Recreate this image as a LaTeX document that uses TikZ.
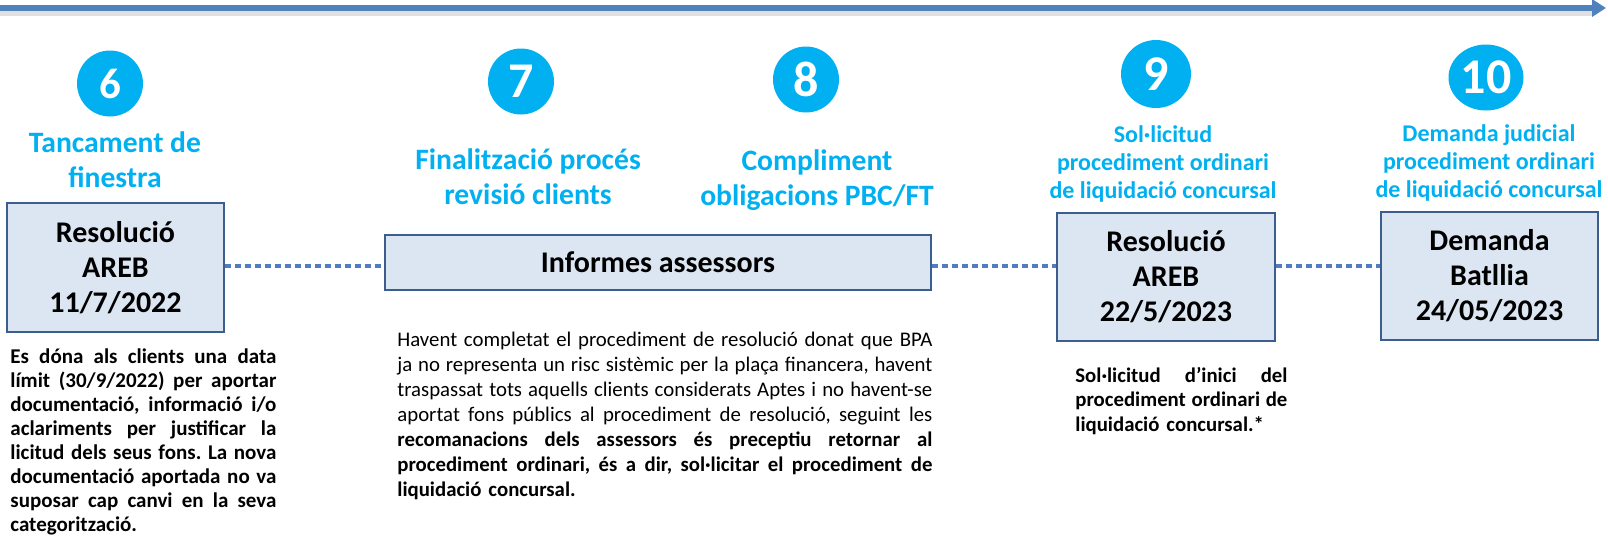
\documentclass[tikz,border=0pt]{standalone}
\usepackage{fontspec}
\setmainfont{Carlito}
\usetikzlibrary{shapes.geometric,arrows.meta}
\definecolor{numblue}{HTML}{00B0F0}
\definecolor{boxfill}{HTML}{DCE6F2}
\definecolor{boxline}{HTML}{3B5E8C}
\definecolor{dotblue}{HTML}{4F7DBF}
\definecolor{arrblue}{HTML}{4F81BD}
\frenchspacing
\newcommand\jl[2]{\hbox to #1{\spaceskip=0.226em plus 1fil minus 0.08em\relax #2}\par}
\begin{document}
\begin{tikzpicture}[x=0.5pt,y=-0.5pt,
  numcirc/.style={ellipse, fill=numblue, text=white, inner sep=0pt,
    minimum width=33pt, minimum height=33pt,
    font=\bfseries\fontsize{25}{25}\selectfont},
  ttl/.style={text=numblue, align=center, inner sep=0pt, anchor=base,
    font=\bfseries\fontsize{14.8}{17.5}\selectfont},
  ttlsmall/.style={ttl, font=\bfseries\fontsize{12}{14}\selectfont},
  bigbox/.style={draw=boxline, fill=boxfill, line width=1pt, align=center,
    inner sep=0pt, font=\bfseries\fontsize{15}{17.5}\selectfont},
  desc/.style={inner sep=0pt, anchor=base west},
  dotline/.style={dotblue, line width=2.3pt, dash pattern=on 3pt off 2pt}
]
\useasboundingbox (0,0) rectangle (1608,548);

% top timeline arrow
\coordinate (al) at (0,8);
\coordinate (ar) at (1606,8);
\draw[black!12, line width=3pt] ([yshift=-2.5pt]al) -- ([yshift=-2.5pt,xshift=-6pt]ar);
\draw[arrblue, line width=3pt, -{Triangle[length=7pt,width=8.5pt]}] (al) -- (ar);

% number circles
\node[numcirc, font=\bfseries\fontsize{21.5}{21.5}\selectfont] (n6) at (110,83.5) {6};
\node[numcirc] (n7) at (521,81.5) {7};
\node[numcirc] (n8) at (806,79.5) {8};
\node[numcirc, minimum width=35pt, minimum height=34pt] (n9) at (1156,74) {9};
\node[numcirc, minimum width=37.5pt, minimum height=33pt] (n10) at (1486,77.5) {10};

% titles (base = last line)
\node[ttl] (t6) at (115,187) {Tancament de\\finestra};
\node[ttl] (t7) at (528,204) {Finalització procés\\revisió clients};
\node[ttl] (t8) at (817,205) {Compliment\\obligacions PBC/FT};
\node[ttlsmall] (t9) at (1163,198) {Sol·licitud\\procediment ordinari\\de liquidació concursal};
\node[ttlsmall] (t10) at (1489,197) {Demanda judicial\\procediment ordinari\\de liquidació concursal};

% boxes
\node[bigbox, minimum width=108.5pt, minimum height=64.5pt] (b6) at (115.5,267.5) {Resolució\\AREB\\11/7/2022};
\node[bigbox, minimum width=273pt, minimum height=27.5pt] (inf) at (658,262.5) {Informes assessors};
\node[bigbox, minimum width=109pt, minimum height=64pt] (b9) at (1166,277) {Resolució\\AREB\\22/5/2023};
\node[bigbox, minimum width=108.5pt, minimum height=64pt] (b10) at (1489.5,276) {Demanda\\Batllia\\24/05/2023};

% dotted connectors
\coordinate (dl) at (0,266);
\draw[dotline] (b6.east |- dl) -- (inf.west |- dl);
\draw[dotline] (inf.east |- dl) -- (b9.west |- dl);
\draw[dotline] (b9.east |- dl) -- (b10.west |- dl);

% descriptions
\node[desc, text width=133pt, font=\bfseries\fontsize{10.5}{12}\selectfont] (d6) at (10,363) {%
\jl{133pt}{Es dóna als clients una data}%
\jl{133pt}{límit (30/9/2022) per aportar}%
\jl{133pt}{documentació, informació i/o}%
\jl{133pt}{aclariments per justificar la}%
\jl{133pt}{licitud dels seus fons. La nova}%
\jl{133pt}{documentació aportada no va}%
\jl{133pt}{suposar cap canvi en la seva}%
categorització.};

\node[desc, text width=267.5pt, font=\fontsize{10.4}{12.5}\selectfont] (d78) at (397,346) {%
\jl{267.5pt}{Havent completat el procediment de resolució donat que BPA}%
\jl{267.5pt}{ja no representa un risc sistèmic per la plaça financera, havent}%
\jl{267.5pt}{traspassat tots aquells clients considerats Aptes i no havent-se}%
\jl{267.5pt}{aportat fons públics al procediment de resolució, seguint les}%
\jl{267.5pt}{\bfseries recomanacions dels assessors és preceptiu retornar al}%
\jl{267.5pt}{\bfseries procediment ordinari, és a dir, sol·licitar el procediment de}%
\textbf{liquidació concursal.}};

\node[desc, text width=106pt, font=\bfseries\fontsize{10.4}{12.25}\selectfont] (d9) at (1075,382) {%
\jl{106pt}{Sol·licitud d’inici del}%
\jl{106pt}{procediment ordinari de}%
liquidació concursal.*};
\end{tikzpicture}
\end{document}
